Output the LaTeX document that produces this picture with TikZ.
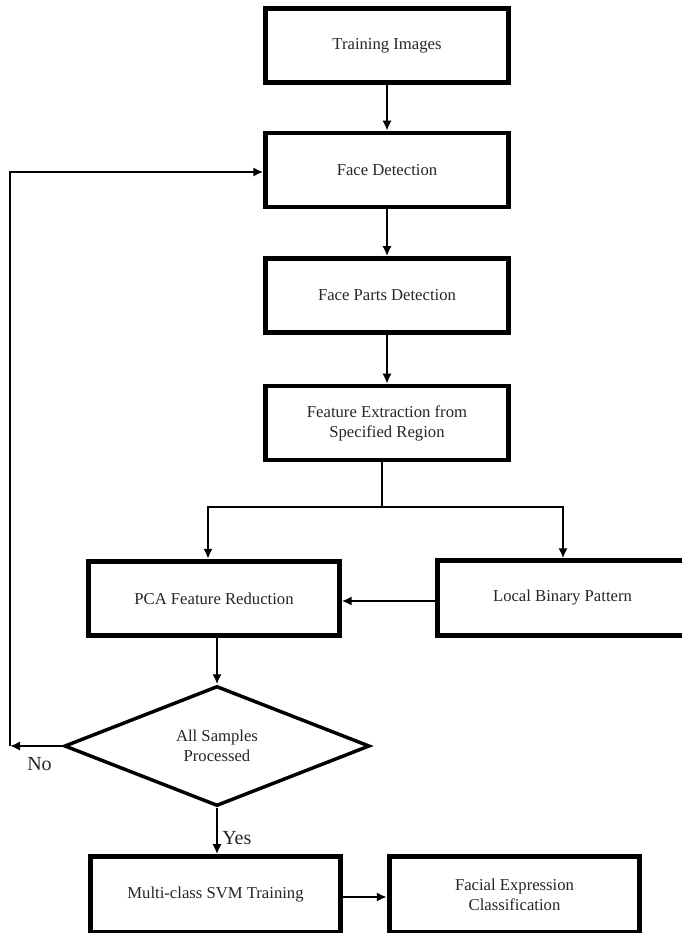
\documentclass[tikz,border=0pt]{standalone}
\usepackage{fontspec}
\setmainfont{Liberation Serif}
\usetikzlibrary{shapes.geometric,arrows.meta}
\begin{document}
\begin{tikzpicture}[x=0.75pt,y=-0.75pt,
  box/.style={draw=black,line width=3.6pt,rectangle,inner sep=0pt,align=center,font=\fontsize{12.5}{15}\selectfont,text=black!85},
  topbox/.style={box,minimum width=182pt,minimum height=55.5pt},
  lowbox/.style={box,minimum width=188pt,minimum height=56pt},
  dec/.style={draw=black,line width=2.6pt,diamond,inner sep=0pt,align=center,minimum width=229pt,minimum height=90pt,font=\fontsize{12.5}{15}\selectfont,text=black!85},
  conn/.style={line width=1.5pt,-{Latex[length=7.5pt,width=7pt]}},
  plain/.style={line width=1.5pt},
  lbl/.style={font=\fontsize{15}{17}\selectfont,text=black!85,inner sep=0pt}]
\useasboundingbox (0,0) rectangle (682,933);
\fill[white] (0,0) rectangle (682,933);
\node[topbox] (ti) at (387,45.5) {Training Images};
\node[topbox] (fd) at (387,170) {Face Detection};
\node[topbox] (fp) at (387,295.5) {Face Parts Detection};
\node[topbox] (fe) at (387,423) {Feature Extraction from\\Specified Region};
\node[lowbox] (pca) at (214,598.5) {PCA Feature Reduction};
\node[lowbox] (lbp) at (562.5,598) {Local Binary Pattern};
\node[dec] (dia) at (217,746) {All Samples\\Processed};
\node[lowbox,minimum height=57pt] (svm) at (215.5,894.5) {Multi-class SVM Training};
\node[lowbox,minimum height=57pt] (fec) at (514.5,894.5) {Facial Expression\\Classification};
\coordinate (bm) at (382,507);
\coordinate (bl) at (208,507);
\coordinate (br) at (563,507);
\coordinate (nc) at (10,746);
\coordinate (uc) at (10,172);
\draw[conn] (ti) -- (fd);
\draw[conn] (fd) -- (fp);
\draw[conn] (fp) -- (fe);
\draw[plain] (fe.south -| bm) -- (bm);
\draw[conn] (bm) -- (bl) -- (bl |- pca.north);
\draw[conn] (bm) -- (br) -- (br |- lbp.north);
\draw[conn] (lbp.west |- 0,601) -- (pca.east |- 0,601);
\draw[conn] (pca.south -| dia.north) -- (dia.north);
\draw[conn] (dia.west) -- (nc);
\draw[conn] (nc) -- (uc) -- (uc -| fd.west);
\draw[conn] (dia.south) -- (svm.north -| dia.south);
\draw[conn] (svm.east |- 0,897) -- (fec.west |- 0,897);
\node[lbl,anchor=west] (no) at (27,764) {No};
\node[lbl,anchor=west] (yes) at (222,838) {Yes};
\end{tikzpicture}
\end{document}
